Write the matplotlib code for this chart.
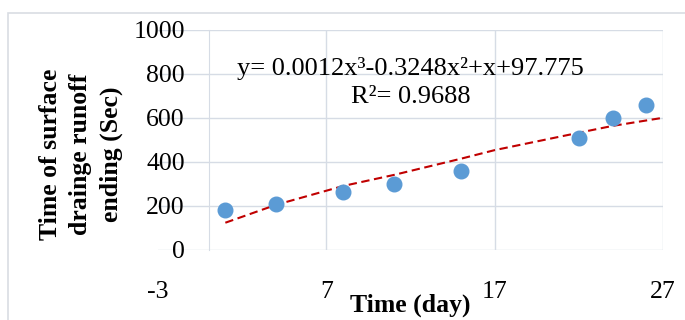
import matplotlib.pyplot as plt
from matplotlib.patches import Rectangle

# Data
days = [1, 4, 8, 11, 15, 22, 24, 26]
runoff_end = [180, 210, 265, 300, 360, 510, 600, 660]

# Trend line as drawn in the chart
trend_days = [1, 4, 8, 11, 15, 17, 22, 24, 27]
trend_values = [124, 205, 291, 341, 415, 454, 533, 564, 601]

x_ticks = [-3, 7, 17, 27]
y_ticks = [0, 200, 400, 600, 800, 1000]

plt.rcParams['font.family'] = ['Liberation Serif', 'DejaVu Serif']
plt.rcParams['axes.unicode_minus'] = False
grid_c = '#d6dce5'

fig = plt.figure(figsize=(6.85, 3.2), dpi=100)
fig.patches.append(Rectangle((8 / 685, -0.1), 1.0, 1 - 13 / 320 + 0.1,
                             transform=fig.transFigure, fill=False,
                             edgecolor='#d9dde3', linewidth=1.2))

ax = fig.add_axes([158 / 685, 1 - 250 / 320, (663 - 158) / 685, 220 / 320])
ax.set_xlim(-3, 27)
ax.set_ylim(0, 1000)

# gridlines
for yv in y_ticks:
    ax.axhline(yv, color=grid_c, lw=1.0, zorder=0)
for xv in x_ticks[1:]:
    ax.axvline(xv, color=grid_c, lw=1.0, zorder=0)

for s in ['top', 'right', 'bottom']:
    ax.spines[s].set_visible(False)
ax.spines['left'].set_position(('data', 0))
ax.spines['left'].set_color(grid_c)
ax.spines['left'].set_zorder(0)

ax.set_xticks(x_ticks)
ax.set_yticks(y_ticks)
ax.tick_params(axis='both', length=0, labelsize=18.5)
ax.tick_params(axis='x', pad=22)
ax.tick_params(axis='y', pad=17)

ax.plot(trend_days, trend_values, color='#c00000', lw=1.5,
        linestyle=(0, (4, 2.2)), zorder=2)
ax.plot(days, runoff_end, 'o', color='#5b9bd5', ms=10.5, zorder=3)

ax.text(0.5, 0.826, 'y= 0.0012x³-0.3248x²+x+97.775', transform=ax.transAxes,
        ha='center', va='center', fontsize=19)
ax.text(0.5, 0.695, 'R²= 0.9688', transform=ax.transAxes,
        ha='center', va='center', fontsize=19)

fig.text(410 / 685, 1 - 305 / 320, 'Time (day)', ha='center', va='center',
         fontsize=18.5, fontweight='bold')
fig.text(81 / 685, 1 - 154 / 320, 'Time of surface\ndrainge runoff\nending (Sec)',
         ha='center', va='center', rotation=90, fontsize=18.5,
         fontweight='bold', linespacing=1.42)

fig.savefig('out.png', dpi=100)
